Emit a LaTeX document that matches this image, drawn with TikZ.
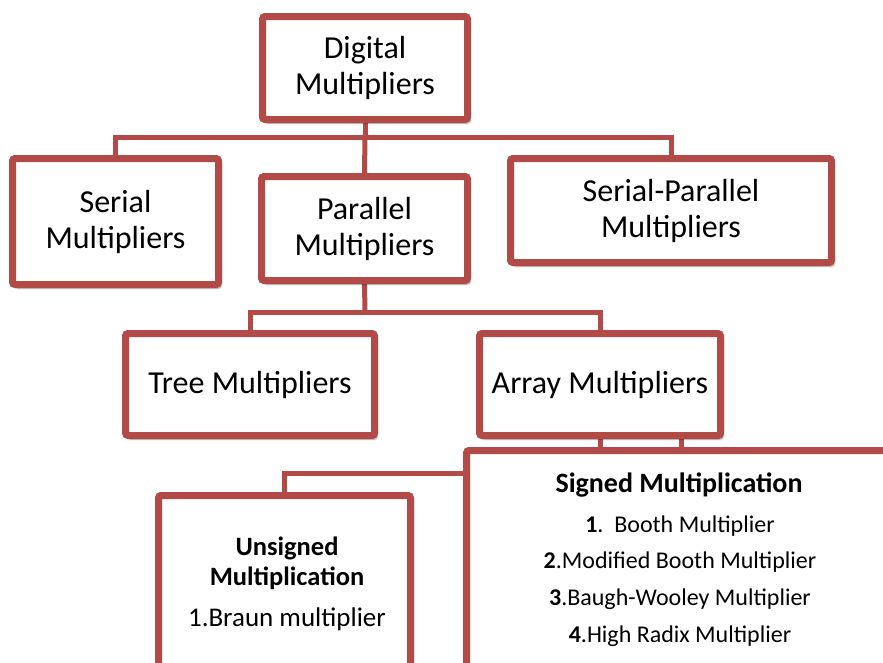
\documentclass[tikz,border=0pt]{standalone}
\usepackage{fontspec}
\setmainfont{Carlito}
\usetikzlibrary{backgrounds,shadows.blur}
\definecolor{bord}{RGB}{178,74,72}
\begin{document}
\begin{tikzpicture}[x=1pt,y=-1pt,
  box/.style={draw=bord, line width=7pt, fill=white, rounded corners=2.5pt, inner sep=0pt,
    blur shadow={shadow xshift=2.5pt, shadow yshift=-3.5pt, shadow opacity=45, shadow blur steps=6}},
  conn/.style={draw=bord, line width=5pt},
  big/.style={font=\fontsize{32}{36}\selectfont, align=center},
  head/.style={font=\fontsize{26.5}{30}\selectfont\bfseries, anchor=base, inner sep=0pt},
  item/.style={font=\fontsize{24}{30}\selectfont, anchor=base, inner sep=0pt}]
\useasboundingbox (0,0) rectangle (883,662);
\clip (0,0) rectangle (883,662);
% boxes
\node[box, big, minimum width=205pt, minimum height=103pt] (dig) at (365,68) {Digital\\Multipliers};
\node[box, big, minimum width=206pt, minimum height=126pt] (ser) at (115.5,221.5) {Serial\\Multipliers};
\node[box, big, minimum width=206pt, minimum height=104pt] (par) at (364.5,228.5) {Parallel\\Multipliers};
\node[box, big, minimum width=321pt, minimum height=104pt] (spar) at (671,210.5) {Serial-Parallel\\Multipliers};
\node[box, big, minimum width=249pt, minimum height=102pt] (tree) at (250,384.5) {Tree Multipliers};
\node[box, big, minimum width=241pt, minimum height=102pt] (arr) at (600,384.5) {Array Multipliers};
\node[box, minimum width=252pt, minimum height=181pt] (uns) at (284.5,586) {};
\node[box, minimum width=430pt, minimum height=226pt] (sig) at (681.5,563.5) {};
% texts of the lower boxes
\node[head] (uns1) at (287,555) {Unsigned};
\node[head] (uns2) at (287,585) {Multiplication};
\node[item, font=\fontsize{27}{30}\selectfont] (uns3) at (287,626) {1.Braun multiplier};
\node[head, font=\fontsize{28}{30}\selectfont\bfseries] (sig0) at (679,492) {Signed Multiplication};
\node[item] (sig1) at (680,532) {\textbf{1}.\ \ Booth Multiplier};
\node[item] (sig2) at (680,568) {\textbf{2}.Modified Booth Multiplier};
\node[item] (sig3) at (680,605) {\textbf{3}.Baugh-Wooley Multiplier};
\node[item] (sig4) at (680,642) {\textbf{4}.High Radix Multiplier};
% connectors
\coordinate (bus1) at (365,137);
\coordinate (bus2) at (365,312);
\coordinate (bus3) at (600,473);
\begin{scope}[on background layer]
  \draw[conn] (dig.south) -- (bus1);
  \draw[conn] (ser.north) |- (bus1);
  \draw[conn] (spar.north) |- (bus1);
  \draw[conn] (bus1) -- (par.north);
  \draw[conn] (par.south) -- (bus2);
  \draw[conn] (tree.north) |- (bus2);
  \draw[conn] (arr.north) |- (bus2);
  \draw[conn] (arr.south) -- (bus3) -| (uns.north);
  \draw[conn] (arr.south -| sig.north) -- (sig.north);
\end{scope}
\end{tikzpicture}
\end{document}
